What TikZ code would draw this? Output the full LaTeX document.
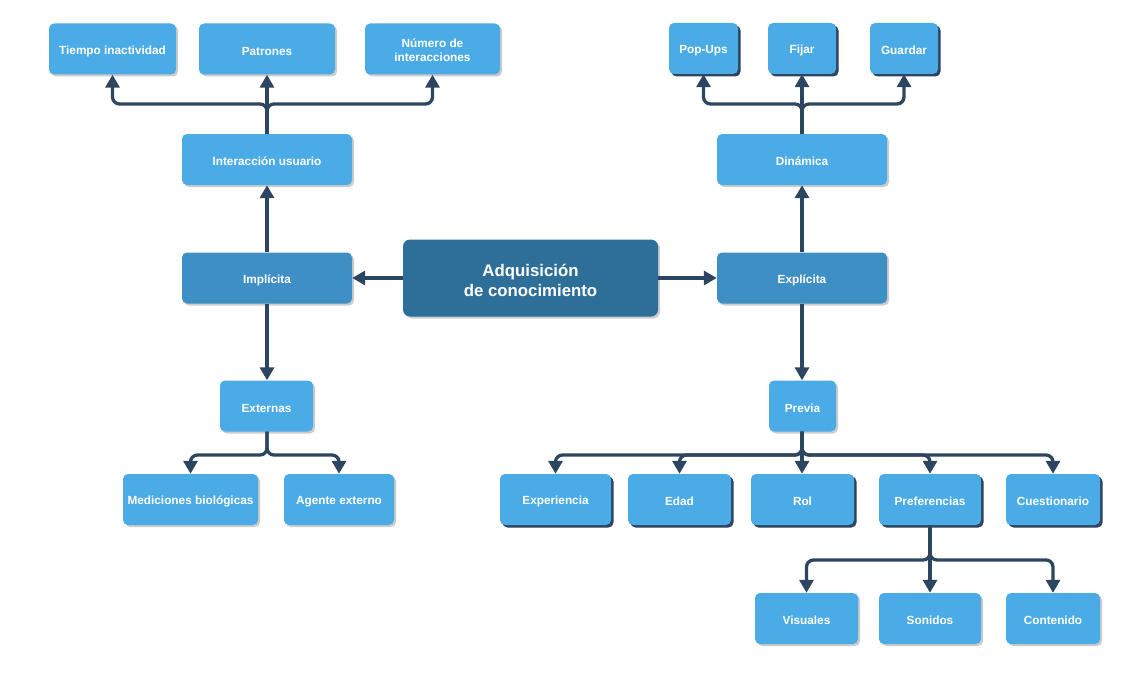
\documentclass[tikz,border=0pt]{standalone}
\usepackage{fontspec}
\setmainfont{Liberation Sans}
\usetikzlibrary{arrows.meta,shadows}
\definecolor{boxblue}{HTML}{4AABE6}
\definecolor{midblue}{HTML}{3E8FC4}
\definecolor{darkblue}{HTML}{2E6F9A}
\definecolor{linecol}{HTML}{2C4560}
\begin{document}
\begin{tikzpicture}[x=1pt,y=-1pt,
  box/.style={rounded corners=5pt, fill=boxblue, text=white, inner sep=0pt,
    minimum height=51pt,
    font=\fontsize{11.8}{14}\selectfont\bfseries,
    execute at begin node={\rule{0pt}{12.8pt}},
    drop shadow={shadow xshift=2pt, shadow yshift=-2pt, fill=black!25, opacity=0.8}},
  dbox/.style={box, drop shadow={shadow xshift=2.5pt, shadow yshift=-2.5pt, fill=linecol, opacity=1}},
  mbox/.style={box, fill=midblue},
  conn/.style={draw=linecol, line width=3.3pt, rounded corners=7pt,
    -{Triangle[width=14pt,length=13pt]}},
]
\useasboundingbox (0,0) rectangle (1126,674);

% top-left
\node[box, minimum width=127pt] (ti) at (112.5,49) {Tiempo inactividad};
\node[box, minimum width=136pt] (pat) at (267,49) {Patrones};
\node[box, minimum width=135pt, execute at begin node={}] (num) at (432.5,49)
  {\begin{tabular}{@{}c@{}}\rule{0pt}{15pt}Número de\\interacciones\end{tabular}};
\node[box, minimum width=170pt] (iu) at (267,159.5) {Interacción usuario};
\node[mbox, minimum width=170pt] (imp) at (267,278) {Implícita};

% center
\node[box, fill=darkblue, minimum width=255pt, minimum height=77pt,
  rounded corners=7pt, font=\fontsize{16.8}{20}\selectfont\bfseries,
  execute at begin node={}] (adq) at (530.5,278)
  {\begin{tabular}{@{}c@{}}\rule{0pt}{22pt}Adquisición\\de conocimiento\end{tabular}};

% right top
\node[mbox, minimum width=170pt] (exp) at (802,278) {Explícita};
\node[box, minimum width=170pt] (din) at (802,159.5) {Dinámica};
\node[dbox, minimum width=69pt] (pop) at (703.5,48.5) {Pop-Ups};
\node[dbox, minimum width=68pt] (fij) at (802,48.5) {Fijar};
\node[dbox, minimum width=68pt] (gua) at (904,48.5) {Guardar};

% left bottom
\node[box, minimum width=93pt] (ext) at (266.5,406) {Externas};
\node[box, minimum width=135pt] (med) at (190.5,499.5) {Mediciones biológicas};
\node[box, minimum width=110pt] (age) at (339,499.5) {Agente externo};

% right bottom
\node[box, minimum width=67pt] (pre) at (802.5,406) {Previa};
\node[dbox, minimum width=111pt] (expe) at (555.5,499.5) {Experiencia};
\node[dbox, minimum width=103pt] (eda) at (679.5,499.5) {Edad};
\node[dbox, minimum width=103pt] (rol) at (802.5,499.5) {Rol};
\node[dbox, minimum width=102pt] (pref) at (930,499.5) {Preferencias};
\node[dbox, minimum width=94pt] (cue) at (1053,499.5) {Cuestionario};
\node[box, minimum width=103pt] (vis) at (806.5,618.5) {Visuales};
\node[box, minimum width=102pt] (son) at (930,618.5) {Sonidos};
\node[box, minimum width=94pt] (con) at (1053,618.5) {Contenido};

% bus coordinates
\coordinate (b1) at (267,104);
\coordinate (b2) at (802,104);
\coordinate (b3) at (267,455);
\coordinate (b4) at (802,455);
\coordinate (b5) at (930,560);

% connectors
\draw[conn] (adq.west) -- (imp.east);
\draw[conn] (adq.east) -- (exp.west);
\draw[conn] (imp.north) -- (iu.south);
\draw[conn] (imp.south) -- (ext.north -| imp.south);
\draw[conn] (exp.north) -- (din.south);
\draw[conn] (exp.south) -- (pre.north -| exp.south);

\draw[conn] (iu.north) -- (b1) -| (ti.south);
\draw[conn] (iu.north) -- (pat.south);
\draw[conn] (iu.north) -- (b1) -| (num.south);

\draw[conn] (din.north) -- (b2) -| (pop.south);
\draw[conn] (din.north) -- (fij.south);
\draw[conn] (din.north) -- (b2) -| (gua.south);

\draw[conn] (ext.south -| imp.south) -- (b3) -| (med.north);
\draw[conn] (ext.south -| imp.south) -- (b3) -| (age.north);

\draw[conn] (pre.south -| exp.south) -- (b4) -| (expe.north);
\draw[conn] (pre.south -| exp.south) -- (b4) -| (eda.north);
\draw[conn] (pre.south -| exp.south) -- (rol.north -| exp.south);
\draw[conn] (pre.south -| exp.south) -- (b4) -| (pref.north);
\draw[conn] (pre.south -| exp.south) -- (b4) -| (cue.north);

\draw[conn] (pref.south) -- (b5) -| (vis.north);
\draw[conn] (pref.south) -- (son.north);
\draw[conn] (pref.south) -- (b5) -| (con.north);
\end{tikzpicture}
\end{document}
